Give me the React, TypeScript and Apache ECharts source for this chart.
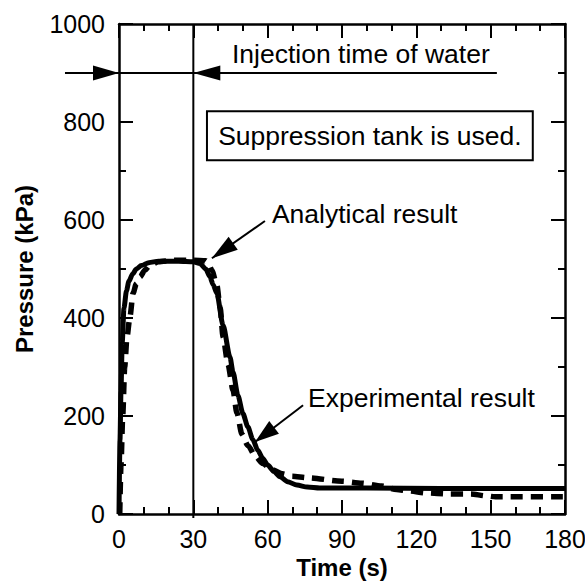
import React, { useEffect, useRef } from "react";
import * as echarts from "echarts";

// ---- data (time s, pressure kPa) ----
const solidTime = [0, 0.4, 0.8, 1.3, 2, 3, 4, 5.5, 7, 9, 12, 16, 24, 30, 32.7, 35, 36.7, 38, 39.5, 42, 44.8, 46, 48, 50, 52, 54, 56, 58, 60, 62.5, 65, 68, 71.8, 76, 81, 100, 130, 180];
const solidPressure = [0, 150, 250, 350, 420, 455, 475, 490, 500, 507, 513, 516, 516, 515, 511, 500, 484, 468, 450, 385, 320, 290, 242, 205, 178, 152, 130, 114, 100, 87, 76, 66, 59, 55, 53, 53, 52, 52];

const dashedTime = [0.3, 0.8, 1.5, 2.3, 3.2, 4.4, 5.7, 7, 8.5, 10.5, 12.5, 16, 22, 30, 35, 36, 37.5, 39.5, 40.8, 42, 44, 46, 47.6, 49.6, 52, 55, 58, 62, 66, 70, 76, 90, 98, 106, 112, 117, 124, 133, 142, 148, 152, 180];
const dashedPressure = [0, 100, 200, 300, 360, 402, 451, 470, 484, 498, 508, 515, 518, 518, 517, 512, 497, 467, 422, 361, 305, 253, 206, 163, 140, 118, 103, 90, 82, 77, 74, 67, 63, 57, 50, 47, 43, 41, 41, 37, 35, 35];

const xTicks = [0, 30, 60, 90, 120, 150, 180];
const yTicks = [0, 200, 400, 600, 800, 1000];

const FONT = '"Liberation Sans", Arial, Helvetica, sans-serif';

function zip(a: number[], b: number[]) {
  return a.map((v, i) => [v, b[i]]);
}

function head(tip: number[], tail: number[], len: number, hw: number) {
  const dx = tip[0] - tail[0];
  const dy = tip[1] - tail[1];
  const L = Math.sqrt(dx * dx + dy * dy) || 1;
  const ux = dx / L, uy = dy / L;
  const bx = tip[0] - ux * len, by = tip[1] - uy * len;
  const px = -uy, py = ux;
  return [
    [tip[0], tip[1]],
    [bx + px * hw, by + py * hw],
    [bx - px * hw, by - py * hw],
  ];
}

export default function App() {
  const ref = useRef<HTMLDivElement>(null);
  useEffect(() => {
    if (!ref.current) return;
    const chart = echarts.init(ref.current, undefined, { renderer: "svg" });
    const axisCommon = {
      type: "value" as const,
      splitLine: { show: false },
      axisLine: { show: true, onZero: false, lineStyle: { color: "#000", width: 2.5 } },
      axisTick: { show: true, inside: true, length: 14, lineStyle: { color: "#000", width: 2 } },
      minorTick: { show: true, length: 7, lineStyle: { color: "#000", width: 2 } },
      minorSplitLine: { show: false },
    };
    const xMin = xTicks[0], xMax = xTicks[xTicks.length - 1];
    const yMin = yTicks[0], yMax = yTicks[yTicks.length - 1];
    const xInt = xTicks[1] - xTicks[0];
    const yInt = yTicks[1] - yTicks[0];
    const fmt = (v: number) => String(v);
    chart.setOption({
      animation: false,
      backgroundColor: "#fff",
      grid: { left: 119, right: 20, top: 24, bottom: 73, containLabel: false, outerBoundsMode: "none" },
      xAxis: [
        {
          ...axisCommon,
          position: "bottom",
          min: xMin, max: xMax, interval: xInt,
          minorTick: { ...axisCommon.minorTick, splitNumber: 3 },
          axisLabel: { fontSize: 25, color: "#000", fontFamily: FONT, margin: 12, formatter: fmt },
          name: "Time (s)",
          nameLocation: "middle",
          nameGap: 34,
          nameTextStyle: { fontSize: 24, fontWeight: "bold", color: "#000", fontFamily: FONT },
        },
        {
          ...axisCommon,
          position: "top",
          min: xMin, max: xMax, interval: xInt,
          minorTick: { ...axisCommon.minorTick, splitNumber: 3 },
          axisLabel: { show: false },
        },
      ],
      yAxis: [
        {
          ...axisCommon,
          position: "left",
          min: yMin, max: yMax, interval: yInt,
          minorTick: { ...axisCommon.minorTick, splitNumber: 2 },
          axisLabel: { fontSize: 25, color: "#000", fontFamily: FONT, margin: 14, formatter: fmt },
          name: "Pressure (kPa)",
          nameLocation: "middle",
          nameGap: 83,
          nameTextStyle: { fontSize: 24, fontWeight: "bold", color: "#000", fontFamily: FONT },
        },
        {
          ...axisCommon,
          position: "right",
          min: yMin, max: yMax, interval: yInt,
          minorTick: { ...axisCommon.minorTick, splitNumber: 2 },
          axisLabel: { show: false },
        },
      ],
      series: [
        {
          name: "Experimental result",
          type: "line",
          data: zip(solidTime, solidPressure),
          showSymbol: false,
          smooth: 0.25,
          smoothMonotone: "x",
          clip: false,
          lineStyle: { color: "#000", width: 5, type: "solid" },
        },
        {
          name: "Analytical result",
          type: "line",
          data: zip(dashedTime, dashedPressure),
          showSymbol: false,
          smooth: 0.25,
          smoothMonotone: "x",
          clip: false,
          lineStyle: { color: "#000", width: 5.5, type: [12, 8], cap: "butt" },
        },
      ],
    });

    const P = (t: number, p: number) =>
      chart.convertToPixel({ xAxisIndex: 0, yAxisIndex: 0 }, [t, p]) as number[];

    const hl0 = P(-21.8, 900), hl1 = P(152.5, 900);
    const v0 = P(30, 1000), v1 = P(30, -8);
    const a1tip = P(0, 900), a2tip = P(30, 900);
    const injText = P(45.6, 939);
    const box0 = P(35.5, 822), box1 = P(167, 722);
    const boxText = P((35.5 + 167) / 2, 772);
    const anText = P(61.7, 612);
    const anTail = P(58.9, 598), anTip = P(37.5, 522);
    const exText = P(76.3, 237);
    const exTail = P(74.3, 222), exTip = P(54.9, 147);

    const textStyle = (x: number, y: number, s: string, align = "left") => ({
      type: "text",
      x, y,
      style: { text: s, fontSize: 26.5, fontFamily: FONT, fill: "#000", align, verticalAlign: "middle" },
      z: 10,
    });

    chart.setOption({
      graphic: [
        { type: "line", shape: { x1: hl0[0], y1: hl0[1], x2: hl1[0], y2: hl1[1] }, style: { stroke: "#000", lineWidth: 2 }, z: 10 },
        { type: "line", shape: { x1: v0[0], y1: v0[1], x2: v1[0], y2: v1[1] }, style: { stroke: "#000", lineWidth: 2 }, z: 10 },
        { type: "polygon", shape: { points: head(a1tip, [a1tip[0] - 40, a1tip[1]], 26, 7.5) }, style: { fill: "#000" }, z: 10 },
        { type: "polygon", shape: { points: head(a2tip, [a2tip[0] + 40, a2tip[1]], 27, 7.5) }, style: { fill: "#000" }, z: 10 },
        textStyle(injText[0], injText[1], "Injection time of water"),
        {
          type: "rect",
          shape: { x: box0[0], y: box0[1], width: box1[0] - box0[0], height: box1[1] - box0[1] },
          style: { fill: "#fff", stroke: "#000", lineWidth: 2 },
          z: 9,
        },
        textStyle(boxText[0], boxText[1], "Suppression tank is used.", "center"),
        textStyle(anText[0], anText[1], "Analytical result"),
        { type: "line", shape: { x1: anTail[0], y1: anTail[1], x2: anTip[0], y2: anTip[1] }, style: { stroke: "#000", lineWidth: 2 }, z: 10 },
        { type: "polygon", shape: { points: head(anTip, anTail, 26, 8) }, style: { fill: "#000" }, z: 10 },
        textStyle(exText[0], exText[1], "Experimental result"),
        { type: "line", shape: { x1: exTail[0], y1: exTail[1], x2: exTip[0], y2: exTip[1] }, style: { stroke: "#000", lineWidth: 2 }, z: 10 },
        { type: "polygon", shape: { points: head(exTip, exTail, 24, 8) }, style: { fill: "#000" }, z: 10 },
      ],
    });

    return () => chart.dispose();
  }, []);
  return (
    <div
      ref={ref}
      style={{ position: "fixed", left: 0, top: 0, width: 585, height: 587, background: "#fff" }}
    />
  );
}
